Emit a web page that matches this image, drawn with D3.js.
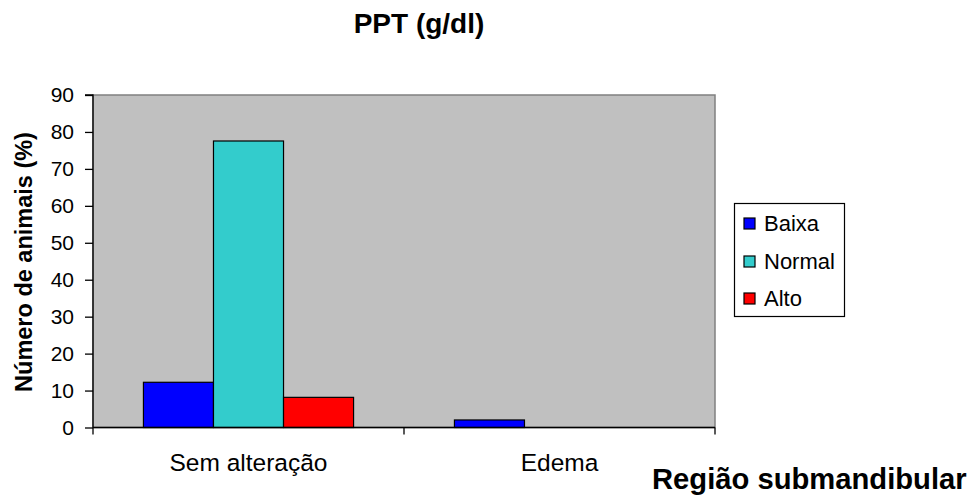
<!DOCTYPE html>
<html><head><meta charset="utf-8">
<script src="https://cdn.jsdelivr.net/npm/d3@7/dist/d3.min.js"></script>
<style>body{margin:0;background:#fff;} text{font-family:"Liberation Sans",Arial,sans-serif;}</style>
</head><body><svg id="c" width="973" height="496"></svg>
<script>
const categories = ["Sem alteração", "Edema"];
const seriesNames = ["Baixa", "Normal", "Alto"];
const seriesColors = ["#0000FF", "#33CCCC", "#FF0000"];
const baixa = [12.24, 2.04];
const normal = [77.55, 0];
const alto = [8.16, 0];
const yTicks = [0, 10, 20, 30, 40, 50, 60, 70, 80, 90];
const seriesValues = [baixa, normal, alto];

const svg = d3.select("#c");
const L = 93, R = 715, T = 95, B = 427.5;
const x = d3.scaleBand().domain(categories).range([L, R]).paddingInner(0).paddingOuter(0);
const xs = d3.scaleBand().domain(seriesNames).range([0, x.bandwidth()]).paddingInner(0).paddingOuter(0.72);
const y = d3.scaleLinear().domain([0, 90]).range([B, T]);

svg.append("rect").attr("x", L).attr("y", T).attr("width", R - L).attr("height", B - T)
  .attr("fill", "#C0C0C0").attr("stroke", "#808080").attr("stroke-width", 1.5);

const data = [];
categories.forEach((c, i) => seriesNames.forEach((s, j) => data.push({c, s, v: seriesValues[j][i], col: seriesColors[j]})));
svg.append("g").selectAll("rect").data(data.filter(d => d.v > 0)).join("rect")
  .attr("x", d => x(d.c) + xs(d.s)).attr("width", xs.bandwidth())
  .attr("y", d => y(d.v)).attr("height", d => B - y(d.v))
  .attr("fill", d => d.col).attr("stroke", "#000").attr("stroke-width", 1.2);

const ya = svg.append("g").attr("transform", `translate(${L},0)`)
  .call(d3.axisLeft(y).tickValues(yTicks).tickSize(8).tickPadding(11).tickFormat(d3.format("d")));
ya.select(".domain").attr("stroke", "#000").attr("stroke-width", 1.3).attr("d", `M-8,${T}H0V${B}`);
ya.selectAll(".tick line").attr("stroke", "#000").attr("stroke-width", 1.3);
ya.selectAll("text").attr("font-size", 21).attr("fill", "#000").attr("font-family", "Liberation Sans, Arial, sans-serif");

const xa = svg.append("g").attr("transform", `translate(0,${B})`)
  .call(d3.axisBottom(x).tickSize(0).tickPadding(0));
xa.select(".domain").attr("stroke", "#000").attr("stroke-width", 1.3).attr("d", `M${L},0H${R}`);
xa.selectAll(".tick text").attr("y", 43).attr("dy", 0).attr("font-size", 24.5).attr("fill", "#000")
  .attr("font-family", "Liberation Sans, Arial, sans-serif");
const edges = [L, ...categories.map(c => x(c) + x.bandwidth())];
xa.selectAll(".edge").data(edges).join("line").attr("class", "edge")
  .attr("x1", d => d).attr("x2", d => d).attr("y1", 0).attr("y2", 7)
  .attr("stroke", "#000").attr("stroke-width", 1.3);

svg.append("text").attr("x", 419).attr("y", 33).attr("text-anchor", "middle")
  .attr("font-size", 28).attr("font-weight", "bold").text("PPT (g/dl)");
svg.append("text").attr("x", 652).attr("y", 489)
  .attr("font-size", 29.2).attr("font-weight", "bold").text("Região submandibular");
svg.append("text").attr("transform", "translate(31.5,262) rotate(-90)").attr("text-anchor", "middle")
  .attr("font-size", 23.5).attr("font-weight", "bold").text("Número de animais (%)");

const lg = svg.append("g");
lg.append("rect").attr("x", 734.5).attr("y", 203.5).attr("width", 110).attr("height", 113)
  .attr("fill", "#fff").attr("stroke", "#000").attr("stroke-width", 1.2);
const ly = [223, 261, 298];
seriesNames.forEach((s, i) => {
  lg.append("rect").attr("x", 744).attr("y", ly[i] - 5).attr("width", 11).attr("height", 11)
    .attr("fill", seriesColors[i]).attr("stroke", "#000").attr("stroke-width", 1.2);
  lg.append("text").attr("x", 764).attr("y", ly[i] + 8).attr("font-size", 22).text(s);
});
</script></body></html>
